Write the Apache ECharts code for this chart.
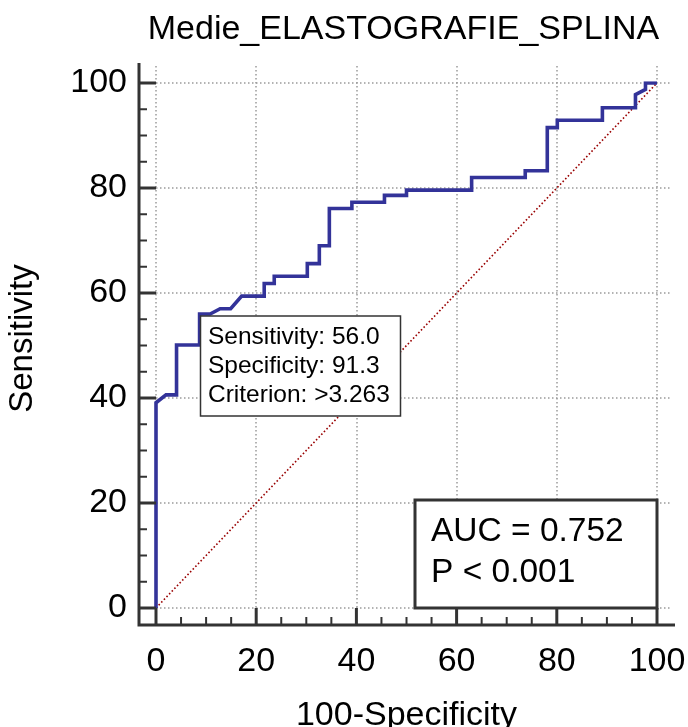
<!DOCTYPE html>
<html>
<head>
<meta charset="utf-8">
<script src="https://cdn.jsdelivr.net/npm/echarts@6/dist/echarts.min.js"></script>
<style>
html,body{margin:0;padding:0;background:#fff;}
#chart{width:688px;height:727px;}
</style>
</head>
<body>
<div id="chart"></div>
<script>
// ---- data ----
const titleText = 'Medie_ELASTOGRAFIE_SPLINA';
const xName = '100-Specificity';
const yName = 'Sensitivity';
const tickValues = [0, 20, 40, 60, 80, 100];
const minorPerMajor = 4;
// ROC curve (100-Specificity, Sensitivity)
const rocX = [0, 0, 2.0, 4.1, 4.1, 8.7, 8.7, 10.8, 12.8, 14.9, 17.1, 21.6, 21.6, 23.6, 23.6, 30.2, 30.2, 32.6, 32.6, 34.6, 34.6, 39.1, 39.1, 45.6, 45.6, 50.0, 50.0, 63.0, 63.0, 73.7, 73.7, 78.1, 78.1, 80.1, 80.1, 89.1, 89.1, 95.7, 95.7, 97.7, 97.7, 100];
const rocY = [0, 39.1, 40.6, 40.6, 50.1, 50.1, 56.0, 56.0, 57.0, 57.0, 59.4, 59.4, 61.8, 61.8, 63.2, 63.2, 65.6, 65.6, 69.0, 69.0, 76.1, 76.1, 77.3, 77.3, 78.6, 78.6, 79.6, 79.6, 82.0, 82.0, 83.3, 83.3, 91.5, 91.5, 92.9, 92.9, 95.3, 95.3, 97.8, 98.8, 100, 100];
const diagX = [0, 100];
const diagY = [0, 100];
const infoLines = ['Sensitivity: 56.0', 'Specificity: 91.3', 'Criterion: >3.263'];
const aucLines = ['AUC = 0.752', 'P < 0.001'];

// ---- layout ----
const W = 688, H = 727;
const G = {left: 156, top: 83, right: 31, bottom: 119};
const G2 = {left: 156, top: 66, right: 16, bottom: 119};
const FONT = '"Liberation Sans", Arial, Helvetica, sans-serif';
const OFF = 17;
const x2Max = 100 * (W - G2.left - G2.right) / (W - G.left - G.right);
const y2Max = 100 * (H - G2.top - G2.bottom) / (H - G.top - G.bottom);

const rocData = rocX.map((x, i) => [x, rocY[i]]);
const diagData = diagX.map((x, i) => [x, diagY[i]]);

const chart = echarts.init(document.getElementById('chart'), null, {renderer: 'canvas'});

const gridLineStyle = {color: '#9a9a9a', width: 1.5, type: [1.5, 2.5]};
const tickFont = {fontFamily: FONT, fontSize: 34, color: '#000'};

const option = {
  backgroundColor: '#fff',
  animation: false,
  grid: [
    Object.assign({}, G, {containLabel: false, outerBoundsMode: 'none'}),
    Object.assign({}, G2, {containLabel: false, outerBoundsMode: 'none'})
  ],
  xAxis: [
    {
      type: 'value', gridIndex: 0, min: 0, max: 100, interval: 20,
      position: 'bottom', offset: OFF,
      axisLine: {show: false},
      axisTick: {show: false},
      minorTick: {show: false},
      splitLine: {show: false},
      axisLabel: Object.assign({margin: 20, formatter: v => tickValues.includes(v) ? String(v) : ''}, tickFont),
      name: xName, nameLocation: 'middle', nameGap: 74,
      nameTextStyle: {fontFamily: FONT, fontSize: 34, color: '#000'}
    },
    {
      type: 'value', gridIndex: 1, min: 0, max: x2Max, interval: 20,
      axisLine: {show: false}, axisTick: {show: false}, axisLabel: {show: false},
      splitLine: {show: true, showMaxLine: false, lineStyle: gridLineStyle}
    }
  ],
  yAxis: [
    {
      type: 'value', gridIndex: 0, min: 0, max: 100, interval: 20,
      position: 'left', offset: OFF,
      axisLine: {show: false},
      axisTick: {show: false},
      minorTick: {show: false},
      splitLine: {show: false},
      axisLabel: Object.assign({margin: 12, formatter: v => tickValues.includes(v) ? String(v) : ''}, tickFont),
      name: yName, nameLocation: 'middle', nameGap: 100,
      nameTextStyle: {fontFamily: FONT, fontSize: 33, color: '#000', padding: [0, 0, 0, 14]}
    },
    {
      type: 'value', gridIndex: 1, min: 0, max: y2Max, interval: 20,
      axisLine: {show: false}, axisTick: {show: false}, axisLabel: {show: false},
      splitLine: {show: true, showMaxLine: false, lineStyle: gridLineStyle}
    }
  ],
  series: [
    {
      type: 'line', xAxisIndex: 0, yAxisIndex: 0, data: diagData,
      symbol: 'none', silent: true, z: 3,
      lineStyle: {color: '#990000', width: 1.6, type: [1.6, 2.2]}
    },
    {
      type: 'line', xAxisIndex: 0, yAxisIndex: 0, data: rocData,
      symbol: 'none', silent: true, z: 4,
      lineStyle: {color: '#333399', width: 3.6, join: 'miter'}
    }
  ],
  graphic: []
};
chart.setOption(option);

// axis lines (extended like the reference), ticks, title and annotation boxes
const p00 = chart.convertToPixel({gridIndex: 0}, [0, 0]);
const p11 = chart.convertToPixel({gridIndex: 0}, [100, 100]);
const axX = p00[0] - OFF, axY = p00[1] + OFF;

const graphics = [
  {
    type: 'polyline', z: 10,
    shape: {points: [[axX, p11[1] - 20], [axX, axY], [p11[0] + 18, axY]]},
    style: {stroke: '#333', lineWidth: 3, fill: null}
  },
  {
    type: 'text', z: 10, x: (p00[0] + p11[0]) / 2 - 3, y: 30,
    style: {text: titleText, fontFamily: FONT, fontSize: 34, fill: '#000', textAlign: 'center', textVerticalAlign: 'middle'}
  }
];
// ticks: major at tickValues, minor in between
const step = (tickValues[1] - tickValues[0]) / minorPerMajor;
for (let k = 0; k < tickValues.length; k++) {
  for (let m = 0; m < minorPerMajor; m++) {
    if (k === tickValues.length - 1 && m > 0) break;
    const v = tickValues[k] + m * step;
    const major = m === 0;
    const len = major ? OFF : 8;
    const lw = major ? 3 : 2;
    const px = chart.convertToPixel({xAxisIndex: 0}, v);
    const py = chart.convertToPixel({yAxisIndex: 0}, v);
    graphics.push({
      type: 'line', z: 10,
      shape: {x1: px, y1: axY, x2: px, y2: axY - len},
      style: {stroke: '#333', lineWidth: lw}
    });
    graphics.push({
      type: 'line', z: 10,
      shape: {x1: axX, y1: py, x2: axX + len, y2: py},
      style: {stroke: '#333', lineWidth: lw}
    });
  }
}
// info box
graphics.push({
  type: 'rect', z: 20,
  shape: {x: 200.5, y: 316, width: 200, height: 100},
  style: {fill: '#fff', stroke: '#333', lineWidth: 1.5}
});
// AUC box
graphics.push({
  type: 'rect', z: 20,
  shape: {x: 415, y: 500, width: p11[0] - 415, height: p00[1] - 500},
  style: {fill: '#fff', stroke: '#333', lineWidth: 3}
});
infoLines.forEach((t, i) => {
  graphics.push({
    type: 'text', z: 21, x: 208, y: 337 + i * 29,
    style: {text: t, fontFamily: FONT, fontSize: 24.5, fill: '#000', textAlign: 'left', textVerticalAlign: 'middle'}
  });
});
aucLines.forEach((t, i) => {
  graphics.push({
    type: 'text', z: 21, x: 431, y: 532 + i * 41,
    style: {text: t, fontFamily: FONT, fontSize: 33.5, fill: '#000', textAlign: 'left', textVerticalAlign: 'middle'}
  });
});
chart.setOption({graphic: graphics});
</script>
</body>
</html>
